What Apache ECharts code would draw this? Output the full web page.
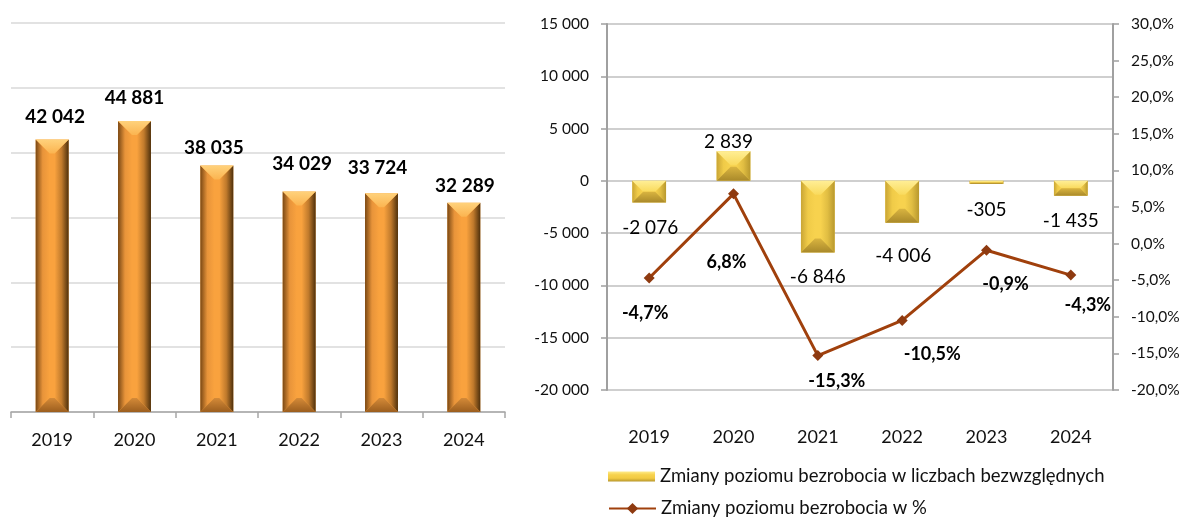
<!DOCTYPE html>
<html>
<head>
<meta charset="utf-8">
<script src="https://cdn.jsdelivr.net/npm/echarts@6/dist/echarts.min.js"></script>
<style>
  html, body { margin: 0; padding: 0; background: #fff; }
  #chart { width: 1184px; height: 517px; }
</style>
</head>
<body>
<div id="chart"></div>
<script>
// dane
const years = ['2019', '2020', '2021', '2022', '2023', '2024'];
const unemployed = [42042, 44881, 38035, 34029, 33724, 32289];
const changeAbs = [-2076, 2839, -6846, -4006, -305, -1435];
const changePct = [-4.7, 6.8, -15.3, -10.5, -0.9, -4.3];
const absName = 'Zmiany poziomu bezrobocia w liczbach bezwzględnych';
const pctName = 'Zmiany poziomu bezrobocia w %';

// przesunięcia etykiet (jak w oryginale, ręcznie ustawione)
const leftLabelNudge = [[3, -23], [0, -23], [-3, -18], [3, -28], [-4, -25], [1, -17]];
const absLabelNudge = [[1, 25], [-5, -9], [0, 24], [1, 33], [0, 26], [0, 25]];
const pctLabelNudge = [[-4, 35], [-7, 68], [19, 26], [30, 34], [19, 34], [17, 30]];

const FONT = 'Lato, "Noto Sans", sans-serif';
const fmt = v => String(v).replace(/\B(?=(\d{3})+(?!\d))/g, ' ');
const fmtPct = v => v.toFixed(1).replace('.', ',') + '%';

const orange = {
  base: '#F9A23E', top: ['#FFD27C', '#FBB450'], bottom: ['#D48A38', '#9C5E1E'],
  left: ['#7A4814', '#E8943A', '#F9A23E'], right: ['#F9A23E', '#C07A2C', '#4E300C']
};
const gold = {
  base: '#F7D24E', top: ['#FFEE95', '#F9DA5C'], bottom: ['#D9B440', '#A9892A'],
  left: ['#C9A535', '#F0CB48', '#F7D24E'], right: ['#F7D24E', '#E0BD42', '#B8982E']
};

function lin(x2, y2, cols) {
  const n = cols.length - 1;
  return { type: 'linear', x: 0, y: 0, x2: x2, y2: y2,
    colorStops: cols.map((c, k) => ({ offset: k / n, color: c })) };
}

function bevelBar(pal, nudge, font, signed) {
  return function (params, api) {
    const i = api.value(0), v = api.value(1);
    const p0 = api.coord([i, 0]), p1 = api.coord([i, v]);
    const bw = api.size([1, 0])[0] * 0.4;
    const l = p0[0] - bw / 2, r = p0[0] + bw / 2;
    const t = Math.min(p0[1], p1[1]), b = Math.max(p0[1], p1[1]);
    const d = Math.min(14, (b - t) / 2, bw / 2);
    const poly = (pts, fill) => ({ type: 'polygon', shape: { points: pts }, style: { fill: fill } });
    const anchor = (!signed || v >= 0) ? t : b;
    const nd = nudge[params.dataIndex];
    return {
      type: 'group',
      children: [
        { type: 'rect', shape: { x: l, y: t, width: bw, height: b - t }, style: { fill: pal.base } },
        poly([[l, t], [l + d, t + d], [l + d, b - d], [l, b]], lin(1, 0, pal.left)),
        poly([[r, t], [r - d, t + d], [r - d, b - d], [r, b]], lin(1, 0, pal.right)),
        poly([[l, t], [r, t], [r - d, t + d], [l + d, t + d]], lin(0, 1, pal.top)),
        poly([[l, b], [r, b], [r - d, b - d], [l + d, b - d]], lin(0, 1, pal.bottom)),
        { type: 'text', style: {
            x: p0[0] + nd[0], y: anchor + nd[1], text: fmt(v),
            align: 'center', verticalAlign: 'middle', font: font, fill: '#000' } }
      ]
    };
  };
}

const legendText = { fontSize: 18.5, color: '#111', fontFamily: FONT };

const chart = echarts.init(document.getElementById('chart'));
chart.setOption({
  animation: false,
  textStyle: { fontFamily: FONT },
  grid: [
    { left: 11, top: 23, width: 494, height: 389 },
    { left: 607, top: 24, width: 506, height: 366 }
  ],
  legend: [
    { left: 603, top: 462, itemWidth: 47, itemHeight: 10, textStyle: legendText,
      data: [{ name: absName, icon: 'rect',
        itemStyle: { color: lin(0, 1, ['#FFEB8A', '#F7D24E', '#F2CB44', '#B8972C']) } }] },
    { left: 603, top: 494, itemWidth: 47, itemHeight: 14, itemGap: 4, textStyle: legendText,
      data: [{ name: pctName }] }
  ],
  xAxis: [
    { type: 'category', gridIndex: 0, data: years,
      axisLine: { lineStyle: { color: '#A6A6A6', width: 1.5 } },
      axisTick: { show: true, length: 6, lineStyle: { color: '#A6A6A6', width: 1.5 } },
      axisLabel: { margin: 19, fontSize: 18, color: '#111' } },
    { type: 'category', gridIndex: 1, data: years,
      axisLine: { show: false }, axisTick: { show: false },
      axisLabel: { margin: 38, fontSize: 18, color: '#111' } }
  ],
  yAxis: [
    { type: 'value', gridIndex: 0, min: 0, max: 60000, interval: 10000,
      axisLine: { show: false }, axisTick: { show: false }, axisLabel: { show: false },
      splitLine: { lineStyle: { color: '#D9D9D9', width: 1.5 } } },
    { type: 'value', gridIndex: 1, min: -20000, max: 15000, interval: 5000,
      axisLine: { show: true, lineStyle: { color: '#A0A0A0', width: 2 } },
      axisTick: { show: true, length: 6, lineStyle: { color: '#A0A0A0', width: 1.5 } },
      axisLabel: { margin: 18, fontSize: 15.5, color: '#111', formatter: fmt },
      splitLine: { lineStyle: { color: '#BFBFBF', width: 1.5 } } },
    { type: 'value', gridIndex: 1, position: 'right', min: -20, max: 30, interval: 5,
      axisLine: { show: true, lineStyle: { color: '#A0A0A0', width: 2 } },
      axisTick: { show: true, length: 6, lineStyle: { color: '#A0A0A0', width: 1.5 } },
      axisLabel: { margin: 18, fontSize: 15.5, color: '#111', formatter: fmtPct },
      splitLine: { show: false } }
  ],
  series: [
    { type: 'custom', name: 'Liczba bezrobotnych', xAxisIndex: 0, yAxisIndex: 0,
      renderItem: bevelBar(orange, leftLabelNudge, 'bold 19px ' + FONT, false),
      encode: { x: 0, y: 1 },
      data: unemployed.map((v, i) => [i, v]) },
    { type: 'custom', name: absName, xAxisIndex: 1, yAxisIndex: 1,
      itemStyle: { color: '#F7D24E' },
      renderItem: bevelBar(gold, absLabelNudge, '19px ' + FONT, true),
      encode: { x: 0, y: 1 },
      data: changeAbs.map((v, i) => [i, v]) },
    { type: 'line', name: pctName, xAxisIndex: 1, yAxisIndex: 2, z: 5,
      symbol: 'diamond', symbolSize: 11,
      lineStyle: { color: '#A0400C', width: 3 },
      itemStyle: { color: '#8E3A10' },
      label: { show: true, position: 'inside', fontSize: 18, fontWeight: 'bold', color: '#000',
        formatter: p => fmtPct(p.value) },
      data: changePct.map((v, i) => ({ value: v, label: { offset: pctLabelNudge[i] } })) }
  ]
});
</script>
</body>
</html>
